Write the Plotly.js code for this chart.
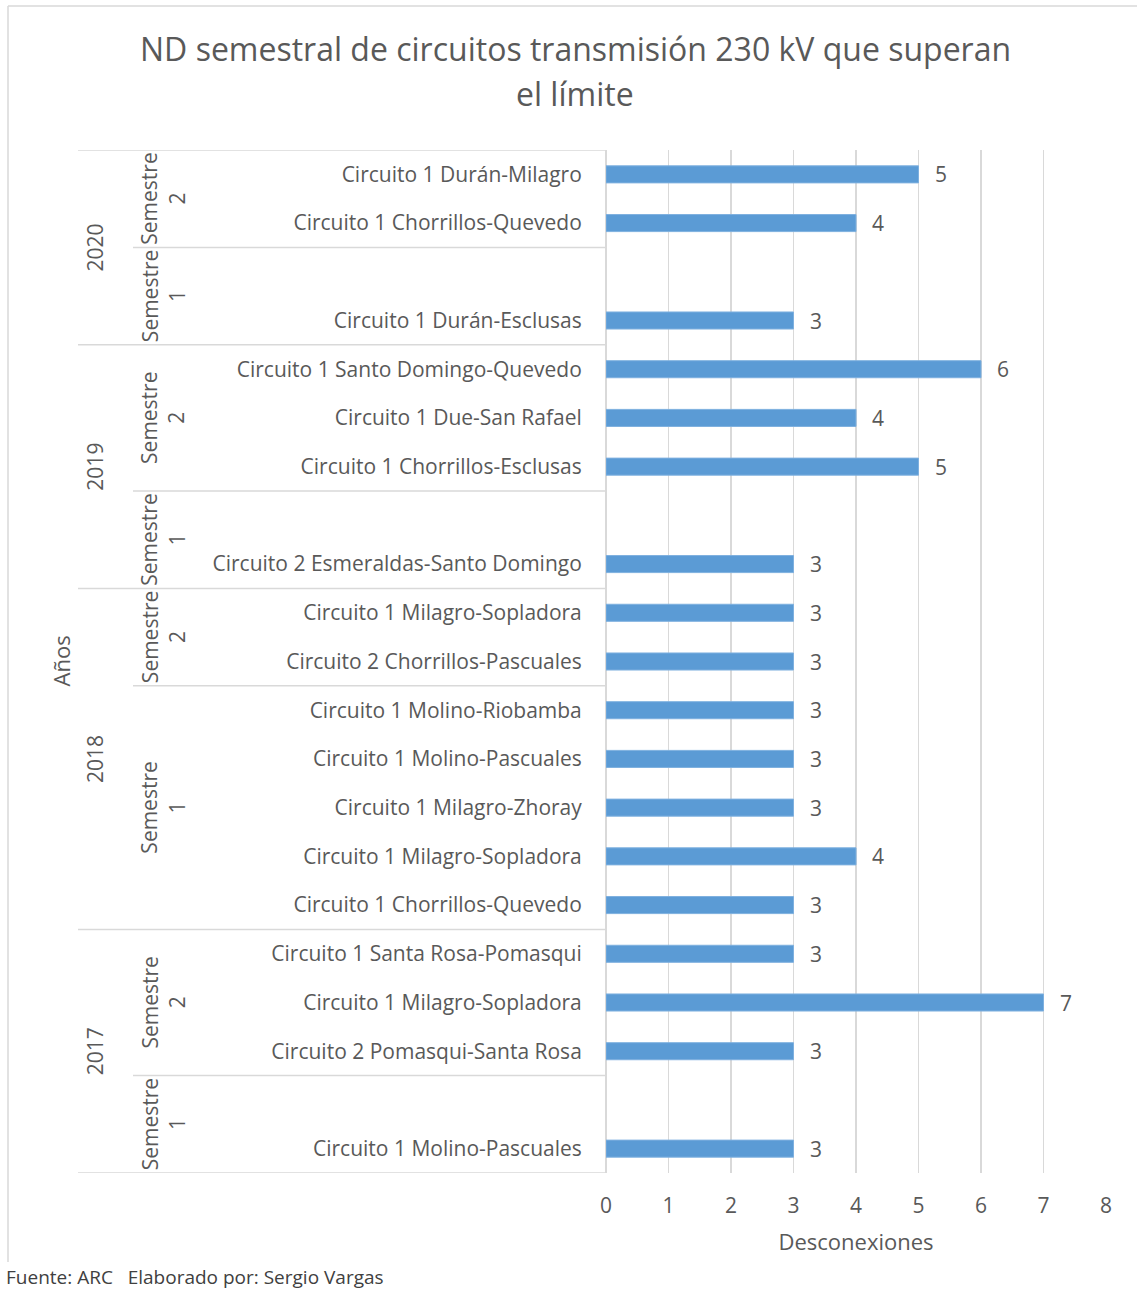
<!DOCTYPE html>
<html>
<head>
<meta charset="utf-8">
<script src="https://cdn.plot.ly/plotly-3.0.1.min.js"></script>
<style>
  html, body { margin: 0; padding: 0; background: #fff; }
  #chart { width: 1137px; height: 1289px; }
</style>
</head>
<body>
<div id="chart"></div>
<script>
// Rows listed top to bottom; empty circuit names mark blank slots in a semester.
const years = ['2020','2020','2020','2020',
               '2019','2019','2019','2019','2019',
               '2018','2018','2018','2018','2018','2018','2018',
               '2017','2017','2017','2017','2017'];
const semesters = ['2','2','1','1',
                   '2','2','2','1','1',
                   '2','2','1','1','1','1','1',
                   '2','2','2','1','1'];
const circuits = [
  'Circuito 1 Durán-Milagro',
  'Circuito 1 Chorrillos-Quevedo',
  '',
  'Circuito 1 Durán-Esclusas',
  'Circuito 1 Santo Domingo-Quevedo',
  'Circuito 1 Due-San Rafael',
  'Circuito 1 Chorrillos-Esclusas',
  '',
  'Circuito 2 Esmeraldas-Santo Domingo',
  'Circuito 1 Milagro-Sopladora',
  'Circuito 2 Chorrillos-Pascuales',
  'Circuito 1 Molino-Riobamba',
  'Circuito 1 Molino-Pascuales',
  'Circuito 1 Milagro-Zhoray',
  'Circuito 1 Milagro-Sopladora',
  'Circuito 1 Chorrillos-Quevedo',
  'Circuito 1 Santa Rosa-Pomasqui',
  'Circuito 1 Milagro-Sopladora',
  'Circuito 2 Pomasqui-Santa Rosa',
  '',
  'Circuito 1 Molino-Pascuales'
];
const desconexiones = [5,4,null,3,6,4,5,null,3,3,3,3,3,3,4,3,3,7,3,null,3];
const xTicks = [0,1,2,3,4,5,6,7,8];

const FONT = '"Open Sans", "Noto Sans", sans-serif';
const TEXT = '#595959';
const LINE = '#d9d9d9';
const FS = 21;

// Plot area geometry (pixels) used to place items in paper coordinates.
const W = 1137, H = 1289;
const M = {l: 606, r: 31, t: 150, b: 116};
const plotW = W - M.l - M.r;
const plotH = H - M.t - M.b;
const px2x = p => (p - M.l) / plotW;
const px2y = p => (H - M.b - p) / plotH;

const rows = circuits.map((_, i) => i);

// Contiguous runs of the same key -> [start, end, key]
function runs(keys) {
  const out = [];
  let s = 0;
  for (let i = 1; i <= keys.length; i++) {
    if (i === keys.length || keys[i] !== keys[s]) { out.push([s, i - 1, keys[s]]); s = i; }
  }
  return out;
}
const yearRuns = runs(years);
const semRuns = runs(years.map((y, i) => y + '|' + semesters[i]));

const shapes = [];
const annotations = [];

// Separator lines of the grouped category axis
const yearLeft = px2x(78), semLeft = px2x(133);
const sep = (x0, y) => ({type: 'line', xref: 'paper', yref: 'y', x0: x0, x1: 0,
                         y0: y, y1: y, line: {color: LINE, width: 1.5}});
shapes.push(sep(yearLeft, -0.5));
yearRuns.forEach(([s, e]) => shapes.push(sep(yearLeft, e + 0.5)));
semRuns.forEach(([s, e]) => {
  if (!yearRuns.some(r => r[1] === e)) shapes.push(sep(semLeft, e + 0.5));
});

// Chart frame (top and left edges)
shapes.push({type: 'line', xref: 'paper', yref: 'paper', x0: px2x(8), x1: px2x(1140),
             y0: px2y(6), y1: px2y(6), line: {color: LINE, width: 1.5}});
shapes.push({type: 'line', xref: 'paper', yref: 'paper', x0: px2x(8), x1: px2x(8),
             y0: px2y(6), y1: px2y(1262), line: {color: LINE, width: 1.5}});

// Title, one annotation per line
const titleLines = ['ND semestral de circuitos transmisión 230 kV que superan', 'el límite'];
titleLines.forEach((t, i) => {
  annotations.push({xref: 'paper', yref: 'paper', x: px2x(575), y: px2y(48 + 45 * i),
                    text: t, showarrow: false, xanchor: 'center', yanchor: 'middle',
                    font: {family: FONT, size: 32, color: TEXT}});
});

// Year and semester labels
yearRuns.forEach(([s, e, y]) => {
  annotations.push({xref: 'paper', yref: 'y', x: px2x(95), y: (s + e) / 2,
                    text: y, showarrow: false, textangle: -90,
                    xanchor: 'center', yanchor: 'middle',
                    font: {family: FONT, size: FS, color: TEXT}});
});
semRuns.forEach(([s, e, k]) => {
  annotations.push({xref: 'paper', yref: 'y', x: px2x(163), y: (s + e) / 2,
                    text: 'Semestre<br>' + k.split('|')[1], showarrow: false, textangle: -90,
                    xanchor: 'center', yanchor: 'middle',
                    font: {family: FONT, size: FS, color: TEXT}});
});

// Value labels beside each bar
desconexiones.forEach((v, i) => {
  if (v === null) return;
  annotations.push({xref: 'x', yref: 'y', x: v, y: i, text: String(v),
                    showarrow: false, xanchor: 'left', yanchor: 'middle', xshift: 14,
                    font: {family: FONT, size: FS, color: TEXT}});
});

// Axis title for the grouped categories
annotations.push({xref: 'paper', yref: 'paper', x: px2x(60), y: 0.5, text: 'Años',
                  showarrow: false, textangle: -90, xanchor: 'center', yanchor: 'middle',
                  font: {family: FONT, size: 22, color: TEXT}});

// Source note
annotations.push({xref: 'paper', yref: 'paper', x: px2x(4), y: px2y(1277),
                  text: 'Fuente: ARC\u00a0\u00a0\u00a0Elaborado por: Sergio Vargas',
                  showarrow: false, xanchor: 'left', yanchor: 'middle',
                  font: {family: FONT, size: 19, color: '#404040'}});

const trace = {
  type: 'bar',
  orientation: 'h',
  x: desconexiones,
  y: rows,
  width: 0.35,
  marker: {color: '#5B9BD5', line: {color: '#7eb0df', width: 1}},
  hoverinfo: 'x',
  cliponaxis: false
};

const layout = {
  width: W, height: H,
  margin: M,
  paper_bgcolor: '#ffffff',
  plot_bgcolor: '#ffffff',
  showlegend: false,
  bargap: 0,
  xaxis: {
    range: [0, 8],
    tickvals: xTicks,
    ticktext: xTicks.map(String),
    showgrid: true, gridcolor: LINE, gridwidth: 1.5,
    zeroline: true, zerolinecolor: LINE, zerolinewidth: 1.5,
    showline: false,
    ticks: 'outside', ticklen: 14, tickcolor: 'rgba(0,0,0,0)',
    tickfont: {family: FONT, size: FS, color: TEXT},
    title: {text: 'Desconexiones', standoff: 16,
            font: {family: FONT, size: 22, color: TEXT}},
    fixedrange: true
  },
  yaxis: {
    range: [circuits.length - 0.5, -0.5],
    tickvals: rows,
    ticktext: circuits,
    showgrid: false, zeroline: false, showline: false,
    ticks: 'outside', ticklen: 19, tickcolor: 'rgba(0,0,0,0)',
    tickfont: {family: FONT, size: FS, color: TEXT},
    fixedrange: true
  },
  shapes: shapes,
  annotations: annotations
};

Plotly.newPlot('chart', [trace], layout, {displayModeBar: false, staticPlot: true});
</script>
</body>
</html>
